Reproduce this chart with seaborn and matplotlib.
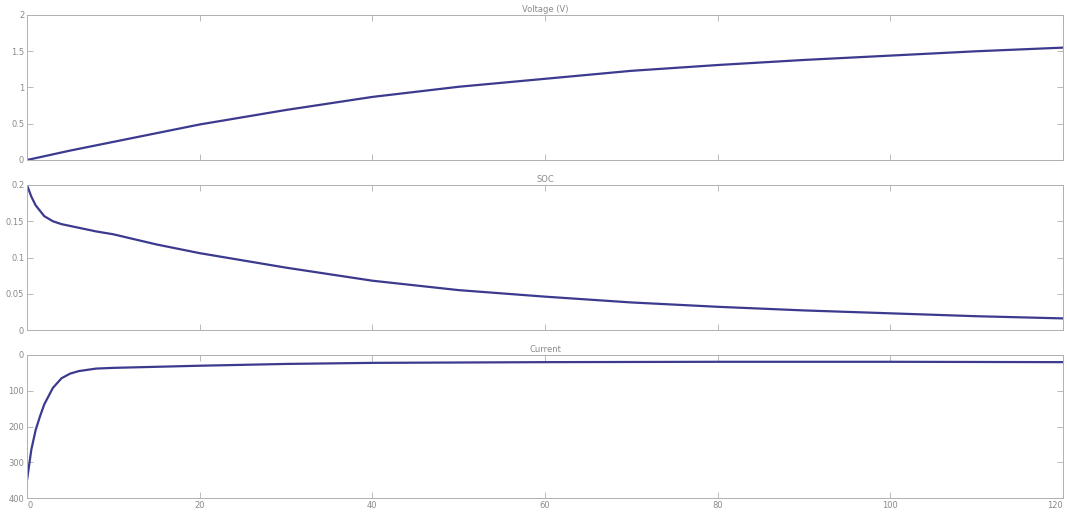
import matplotlib
matplotlib.use("Agg")
import matplotlib.pyplot as plt
import seaborn as sns
import pandas as pd

sns.set_theme(style="white")
plt.rcParams['font.family'] = ['DejaVu Sans']

# ---- data ----
time_v = [0, 5, 10, 15, 20, 30, 40, 50, 60, 70, 80, 90, 100, 110, 120]
voltage = [0, 0.13, 0.25, 0.37, 0.49, 0.69, 0.87, 1.01, 1.12, 1.23, 1.31, 1.38, 1.44, 1.50, 1.55]

time_soc = [0, 0.5, 1, 2, 3, 4, 6, 8, 10, 15, 20, 30, 40, 50, 60, 70, 80, 90, 100, 110, 120]
soc = [0.2, 0.184, 0.172, 0.157, 0.150, 0.146, 0.141, 0.136, 0.132, 0.118, 0.106, 0.086,
       0.068, 0.055, 0.046, 0.038, 0.032, 0.027, 0.023, 0.019, 0.016]

time_i = [0, 0.5, 1, 1.5, 2, 3, 4, 5, 6, 8, 10, 15, 20, 30, 40, 50, 60, 80, 100, 120]
current = [350, 265, 210, 172, 138, 92, 65, 52, 45, 38, 36, 33, 30, 25, 22, 21, 20, 19, 19, 20]

titles = ["Voltage (V)", "SOC", "Current"]
x_ticks = [0, 20, 40, 60, 80, 100, 120]
v_ticks = [0, 0.5, 1, 1.5, 2]
soc_ticks = [0, 0.05, 0.1, 0.15, 0.2]
i_ticks = [0, 100, 200, 300, 400]

line_color = "#3c3a8e"
frame_color = "#b0b0b0"
text_color = "#8a8a8a"

fig = plt.figure(figsize=(10.67, 5.19), dpi=100)
W, H = 1067, 519
def rect(left, top, right, bottom):
    return [left / W, 1 - bottom / H, (right - left) / W, (bottom - top) / H]

ax1 = fig.add_axes(rect(27, 15, 1063, 160))
ax2 = fig.add_axes(rect(27, 185, 1063, 330))
ax3 = fig.add_axes(rect(27, 355, 1063, 498))

df_v = pd.DataFrame({"t": time_v, "v": voltage})
df_s = pd.DataFrame({"t": time_soc, "v": soc})
df_i = pd.DataFrame({"t": time_i, "v": current})

sns.lineplot(data=df_v, x="t", y="v", ax=ax1, color=line_color, lw=1.6)
sns.lineplot(data=df_s, x="t", y="v", ax=ax2, color=line_color, lw=1.6)
sns.lineplot(data=df_i, x="t", y="v", ax=ax3, color=line_color, lw=1.6)

ax1.set_ylim(0, 2)
ax1.set_yticks(v_ticks)
ax1.set_yticklabels(["0", "0.5", "1", "1.5", "2"])
ax2.set_ylim(0, 0.2)
ax2.set_yticks(soc_ticks)
ax2.set_yticklabels(["0", "0.05", "0.1", "0.15", "0.2"])
ax3.set_ylim(400, 0)
ax3.set_yticks(i_ticks)
ax3.set_yticklabels([str(t) for t in i_ticks])

for ax, title in zip([ax1, ax2, ax3], titles):
    ax.set_xlim(0, 120)
    ax.set_xticks(x_ticks)
    ax.set_xlabel("")
    ax.set_ylabel("")
    ax.set_title(title, fontsize=6, color=text_color, pad=2)
    ax.tick_params(direction="in", length=4, width=0.6, colors=frame_color,
                   labelcolor=text_color, labelsize=6, top=True, right=True,
                   left=True, bottom=True, pad=2)
    for s in ax.spines.values():
        s.set_color(frame_color)
        s.set_linewidth(0.7)
    ax.set_facecolor("white")

ax1.tick_params(labelbottom=False)
ax2.tick_params(labelbottom=False)
ax3.set_xticklabels([str(t) for t in x_ticks])
xlabels = ax3.get_xticklabels()
xlabels[0].set_horizontalalignment("left")
xlabels[-1].set_horizontalalignment("right")

fig.savefig("out.png", dpi=100, facecolor="white")
